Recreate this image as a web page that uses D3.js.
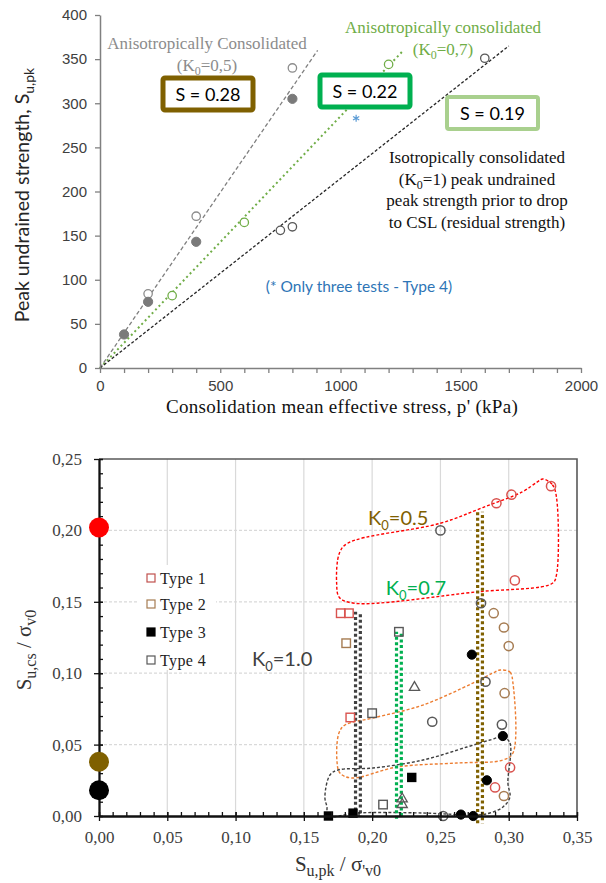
<!DOCTYPE html>
<html>
<head>
<meta charset="utf-8">
<script src="https://cdn.jsdelivr.net/npm/d3@7"></script>
<style>
  body { margin: 0; background: #fff; }
</style>
</head>
<body>
<div id="chart"></div>
<script>
// ---- top panel: peak strength vs consolidation stress ----
var topXTicks = d3.range(0, 2001, 100);
var topYTicks = d3.range(0, 401, 50);
var k05Open = [[200, 84], [400, 172], [800, 340]];
var k05Filled = [[100, 38], [200, 75], [400, 143], [800, 305]];
var k07Open = [[300, 82], [600, 165], [1200, 344]];
var k1Open = [[750, 156], [800, 160], [1600, 351]];
var type4Star = [[1065, 283]];
var trendEndP = [905, 1255, 1700];
var trendEndSu = [360, 358, 365];

// ---- bottom panel: su,cs/sv0 vs su,pk/sv0 ----
var botXMajor = [0, 0.05, 0.10, 0.15, 0.20, 0.25, 0.30, 0.35];
var botYMajor = [0, 0.05, 0.10, 0.15, 0.20, 0.25];
var redCircles = [[0.291, 0.219], [0.302, 0.225], [0.331, 0.231], [0.3045, 0.165], [0.301, 0.034], [0.290, 0.020]];
var redSquares = [[0.177, 0.142], [0.183, 0.142], [0.184, 0.069]];
var brownCircles = [[0.289, 0.142], [0.2965, 0.132], [0.300, 0.119], [0.297, 0.086], [0.2965, 0.014]];
var brownSquares = [[0.181, 0.121]];
var blackCircles = [[0.273, 0.113], [0.2957, 0.056], [0.284, 0.025], [0.265, 0.001], [0.274, 0.0]];
var blackSquares = [[0.229, 0.027], [0.168, 0.0], [0.186, 0.002]];
var grayCircles = [[0.250, 0.200], [0.2797, 0.149], [0.283, 0.094], [0.295, 0.064], [0.244, 0.066], [0.252, 0.0]];
var graySquares = [[0.2196, 0.129], [0.200, 0.072], [0.208, 0.008]];
var grayTriangles = [[0.231, 0.090], [0.222, 0.012], [0.222, 0.008]];
var axisPoints = [[0, 0.202], [0, 0.038], [0, 0.018]];
var k0Values = ["0.5", "0.7", "1.0"];
var k0LineX = [0.279, 0.2196, 0.1896];
var k0LineTop = [0.213, 0.129, 0.143];
var k0LineBottom = [-0.005, -0.002, 0.0];

var redOutline = [[0.325, 0.236], [0.332, 0.232], [0.335, 0.223], [0.335, 0.169], [0.332, 0.163], [0.277, 0.157],
  [0.187, 0.149], [0.176, 0.153], [0.174, 0.163], [0.176, 0.184], [0.182, 0.191], [0.250, 0.205], [0.281, 0.216],
  [0.310, 0.227], [0.321, 0.234]];
var orangeOutline = [[0.2936, 0.1022], [0.3009, 0.1008], [0.3031, 0.0931], [0.3031, 0.0441], [0.2958, 0.0392],
  [0.2621, 0.0371], [0.2182, 0.0343], [0.1852, 0.0266], [0.1764, 0.0301], [0.1742, 0.0392], [0.1757, 0.0581],
  [0.1801, 0.0637], [0.2006, 0.0686], [0.2372, 0.0777], [0.2738, 0.0931], [0.2884, 0.1001]];
var blackOutline = [[0.2958, 0.0553], [0.3009, 0.0511], [0.2994, 0.0231], [0.3009, 0.0133], [0.2958, 0.0063],
  [0.2862, 0.0021], [0.2767, 0.0007], [0.2372, 0.0021], [0.1889, 0.0021], [0.1676, 0.0], [0.1669, 0.0063],
  [0.1654, 0.0133], [0.1691, 0.0287], [0.1750, 0.0322], [0.2006, 0.0336], [0.2372, 0.0392], [0.2694, 0.0483],
  [0.2862, 0.0532]];
var legendTypes = ["Type 1", "Type 2", "Type 3", "Type 4"];

var serif = "'Liberation Serif', 'Times New Roman', serif";
var sans = "Lato, 'Open Sans', sans-serif";
var tahoma = "'Liberation Sans', Arial, sans-serif";

var svg = d3.select("#chart").append("svg")
  .attr("width", 606)
  .attr("height", 883)
  .style("background", "#fff");

// text with subscripts: parts = [[text, isSub], ...]
var rich = function(t, parts, subSize, shift) {
  var prevSub = false;
  parts.forEach(function(p) {
    var ts = t.append("tspan").text(p[0]);
    if (p[1]) {
      ts.style("font-size", subSize + "px");
      if (!prevSub) ts.attr("dy", shift);
    } else if (prevSub) {
      ts.attr("dy", -shift);
    }
    prevSub = p[1];
  });
  return t;
};

// ================= TOP PANEL =================
var xTop = d3.scaleLinear().domain([0, 2000]).range([100, 581]);
var yTop = d3.scaleLinear().domain([0, 400]).range([368, 15]);
var gTop = svg.append("g");

var topLine = d3.line()
  .x(function(d) { return xTop(d[0]); })
  .y(function(d) { return yTop(d[1]); });

var lineStyles = [
  { color: "#7f7f7f", dash: "4,2.5", width: 1.3 },
  { color: "#70ad47", dash: "2,3", width: 2 },
  { color: "#262626", dash: "3,2", width: 1.3 }
];
trendEndP.forEach(function(p, i) {
  gTop.append("path")
    .attr("d", topLine([[0, 0], [p, trendEndSu[i]]]))
    .attr("fill", "none")
    .attr("stroke", lineStyles[i].color)
    .attr("stroke-width", lineStyles[i].width)
    .attr("stroke-dasharray", lineStyles[i].dash);
});

var dots = function(g, data, xs, ys, r, fill, stroke, sw) {
  g.selectAll(null).data(data).enter().append("circle")
    .attr("cx", function(d) { return xs(d[0]); })
    .attr("cy", function(d) { return ys(d[1]); })
    .attr("r", r)
    .attr("fill", fill)
    .attr("stroke", stroke)
    .attr("stroke-width", sw);
};
dots(gTop, k05Open, xTop, yTop, 4.2, "#fff", "#8c8c8c", 1.3);
dots(gTop, k05Filled, xTop, yTop, 4.6, "#7a7a7a", "#7a7a7a", 1);
dots(gTop, k07Open, xTop, yTop, 4.2, "#fff", "#70ad47", 1.3);
dots(gTop, k1Open, xTop, yTop, 4.2, "#fff", "#595959", 1.3);

gTop.selectAll(null).data(type4Star).enter().append("path")
  .attr("transform", function(d) { return "translate(" + xTop(d[0]) + "," + yTop(d[1]) + ")"; })
  .attr("d", d3.symbol().type(d3.symbolAsterisk).size(36))
  .attr("fill", "none")
  .attr("stroke", "#5b9bd5")
  .attr("stroke-width", 1.2);

// axes
var axTopX = gTop.append("g")
  .attr("transform", "translate(0," + yTop(0) + ")")
  .call(d3.axisBottom(xTop).tickValues(topXTicks).tickSize(5).tickSizeOuter(0).tickPadding(7)
    .tickFormat(function(d) { return d % 500 === 0 ? d : ""; }));
var axTopY = gTop.append("g")
  .attr("transform", "translate(" + xTop(0) + ",0)")
  .call(d3.axisLeft(yTop).tickValues(topYTicks).tickSize(5).tickSizeOuter(0).tickPadding(8));
[axTopX, axTopY].forEach(function(a) {
  a.select(".domain").attr("stroke", "#808080").attr("stroke-width", 1.5);
  a.selectAll(".tick line").attr("stroke", "#808080").attr("stroke-width", 1.3);
  a.selectAll(".tick text").attr("fill", "#404040").style("font-family", tahoma).style("font-size", "15px");
});

gTop.append("text")
  .attr("x", 342).attr("y", 413)
  .attr("text-anchor", "middle")
  .style("font-family", serif).style("font-size", "19px").style("letter-spacing", "0.3px").attr("fill", "#111")
  .text("Consolidation mean effective stress, p' (kPa)");

rich(gTop.append("text")
  .attr("transform", "translate(29,195) rotate(-90)")
  .attr("text-anchor", "middle")
  .style("font-family", sans).style("font-size", "19.5px").attr("fill", "#262626"),
  [["Peak undrained strength, S", false], ["u,pk", true]], 14, 5);

// annotations
var note = function(x, y, lines, color, size) {
  lines.forEach(function(l, i) {
    rich(gTop.append("text")
      .attr("x", x).attr("y", y + i * 21.7)
      .attr("text-anchor", "middle")
      .style("font-family", serif).style("font-size", size + "px").attr("fill", color),
      l, 12, 4);
  });
};
note(207, 49, [[["Anisotropically Consolidated", false]], [["(K", false], ["0", true], ["=0,5)", false]]], "#8c8c8c", 17);
note(443, 33, [[["Anisotropically consolidated", false]], [["(K", false], ["0", true], ["=0,7)", false]]], "#70ad47", 17);
note(477, 163, [[["Isotropically consolidated", false]], [["(K", false], ["0", true], ["=1) peak undrained", false]],
  [["peak strength prior to drop", false]], [["to CSL (residual strength)", false]]], "#111", 17);

var sBoxes = [
  { x: 163, y: 78, w: 90, h: 32, color: "#7f6000", sw: 5, label: "S = 0.28" },
  { x: 320, y: 75, w: 90, h: 32, color: "#00b050", sw: 5, label: "S = 0.22" },
  { x: 447, y: 97, w: 91, h: 32, color: "#a9d08e", sw: 4, label: "S = 0.19" }
];
sBoxes.forEach(function(b) {
  gTop.append("rect")
    .attr("x", b.x).attr("y", b.y).attr("width", b.w).attr("height", b.h)
    .attr("rx", 2)
    .attr("fill", "#fff").attr("stroke", b.color).attr("stroke-width", b.sw);
  gTop.append("text")
    .attr("x", b.x + b.w / 2).attr("y", b.y + b.h / 2 + 6.5)
    .attr("text-anchor", "middle")
    .style("font-family", sans).style("font-size", "18px").attr("fill", "#000")
    .text(b.label);
});

gTop.append("text")
  .attr("x", 359).attr("y", 292)
  .attr("text-anchor", "middle")
  .style("font-family", sans).style("font-size", "15.5px").attr("fill", "#2e75b6")
  .text("(* Only three tests - Type 4)");

// ================= BOTTOM PANEL =================
var xBot = d3.scaleLinear().domain([0, 0.35]).range([99, 577]);
var yBot = d3.scaleLinear().domain([0, 0.25]).range([816, 459]);
var gBot = svg.append("g");

// gridlines
gBot.selectAll(null).data(botXMajor.slice(1, -1)).enter().append("line")
  .attr("x1", function(d) { return xBot(d); }).attr("x2", function(d) { return xBot(d); })
  .attr("y1", yBot(0)).attr("y2", yBot(0.25))
  .attr("stroke", "#d9d9d9").attr("stroke-width", 1.2);
gBot.selectAll(null).data(botYMajor.slice(1, -1)).enter().append("line")
  .attr("x1", xBot(0)).attr("x2", xBot(0.35))
  .attr("y1", function(d) { return yBot(d); }).attr("y2", function(d) { return yBot(d); })
  .attr("stroke", "#d9d9d9").attr("stroke-width", 1.2).attr("stroke-dasharray", "3,2");

// frame top/right
gBot.append("path")
  .attr("d", "M" + xBot(0) + "," + yBot(0.25) + "H" + xBot(0.35) + "V" + yBot(0))
  .attr("fill", "none").attr("stroke", "#595959").attr("stroke-width", 1.6);

// legend
var legend = gBot.append("g");
legend.append("rect")
  .attr("x", 138).attr("y", 565).attr("width", 78).attr("height", 105)
  .attr("fill", "#fff");
var legendColors = ["#c0504d", "#a67c52", "#000", "#595959"];
var legendY = [578, 604, 632, 660];
legendTypes.forEach(function(t, i) {
  legend.append("rect")
    .attr("x", 147).attr("y", legendY[i] - 4).attr("width", 8).attr("height", 8)
    .attr("fill", i === 2 ? "#000" : "#fff")
    .attr("stroke", legendColors[i]).attr("stroke-width", 1.2);
  legend.append("text")
    .attr("x", 160).attr("y", legendY[i] + 5.5)
    .style("font-family", serif).style("font-size", "16px").style("letter-spacing", "0.4px").attr("fill", "#222")
    .text(t);
});

// outlines
var outline = d3.line()
  .x(function(d) { return xBot(d[0]); })
  .y(function(d) { return yBot(d[1]); })
  .curve(d3.curveCatmullRomClosed.alpha(0.5));
[[redOutline, "#ff0000"], [orangeOutline, "#ed7d31"], [blackOutline, "#404040"]].forEach(function(o) {
  gBot.append("path")
    .attr("d", outline(o[0]))
    .attr("fill", "none")
    .attr("stroke", o[1]).attr("stroke-width", 1.4).attr("stroke-dasharray", "3,2");
});

// K0 vertical lines (square dotted, two staggered columns)
var k0Colors = ["#7f6000", "#00b050", "#404040"];
k0LineX.forEach(function(x, i) {
  [-2.4, 2.4].forEach(function(off, j) {
    gBot.append("line")
      .attr("x1", xBot(x) + off).attr("x2", xBot(x) + off)
      .attr("y1", yBot(k0LineBottom[i])).attr("y2", yBot(k0LineTop[i]))
      .attr("stroke", k0Colors[i]).attr("stroke-width", 3.2)
      .attr("stroke-dasharray", "3,2.6")
      .attr("stroke-dashoffset", j * 2.8);
  });
});

var k0LabelPos = [[0.197, 0.204], [0.210, 0.155], [0.112, 0.105]];
k0Values.forEach(function(v, i) {
  rich(gBot.append("text")
    .attr("x", xBot(k0LabelPos[i][0])).attr("y", yBot(k0LabelPos[i][1]))
    .style("font-family", sans).style("font-size", "20px").attr("fill", k0Colors[i]),
    [["K", false], ["0", true], ["=" + v, false]], 13, 5);
});

// markers
var sq = function(data, fill, stroke, s) {
  gBot.selectAll(null).data(data).enter().append("rect")
    .attr("x", function(d) { return xBot(d[0]) - s / 2; })
    .attr("y", function(d) { return yBot(d[1]) - s / 2; })
    .attr("width", s).attr("height", s)
    .attr("fill", fill).attr("stroke", stroke).attr("stroke-width", 1.4);
};
dots(gBot, redCircles, xBot, yBot, 4.6, "none", "#d9534f", 1.5);
dots(gBot, brownCircles, xBot, yBot, 4.6, "none", "#a67c52", 1.5);
dots(gBot, grayCircles, xBot, yBot, 4.6, "none", "#595959", 1.5);
dots(gBot, blackCircles, xBot, yBot, 4.6, "#000", "#000", 1);
sq(redSquares, "none", "#d9534f", 8.5);
sq(brownSquares, "none", "#a67c52", 8.5);
sq(graySquares, "none", "#595959", 8.5);
sq(blackSquares, "#000", "#000", 8);
gBot.selectAll(null).data(grayTriangles).enter().append("path")
  .attr("transform", function(d) { return "translate(" + xBot(d[0]) + "," + yBot(d[1]) + ")"; })
  .attr("d", d3.symbol().type(d3.symbolTriangle).size(45))
  .attr("fill", "none").attr("stroke", "#595959").attr("stroke-width", 1.3);

// axes
var fmt = function(d) { return d3.format(".2f")(d).replace(".", ","); };
var axBotX = gBot.append("g")
  .attr("transform", "translate(0," + yBot(0) + ")")
  .call(d3.axisBottom(xBot).tickValues(botXMajor).tickSize(5).tickSizeOuter(0).tickPadding(10).tickFormat(fmt));
var axBotXMinor = gBot.append("g")
  .attr("transform", "translate(0," + yBot(0) + ")")
  .call(d3.axisBottom(xBot).tickValues(d3.range(0, 36).map(function(i) { return i / 100; }))
    .tickSize(-4).tickSizeOuter(0).tickFormat(""));
var axBotY = gBot.append("g")
  .attr("transform", "translate(" + xBot(0) + ",0)")
  .call(d3.axisLeft(yBot).tickValues(botYMajor).tickSize(5).tickSizeOuter(0).tickPadding(12).tickFormat(fmt));
var axBotYMinor = gBot.append("g")
  .attr("transform", "translate(" + xBot(0) + ",0)")
  .call(d3.axisLeft(yBot).tickValues(d3.range(0, 26).map(function(i) { return i / 100; }))
    .tickSize(-4).tickSizeOuter(0).tickFormat(""));
axBotX.selectAll(".tick line").attr("y1", -4);
axBotY.selectAll(".tick line").attr("x1", 4);
[axBotX, axBotXMinor, axBotY, axBotYMinor].forEach(function(a) {
  a.select(".domain").attr("stroke", "#111").attr("stroke-width", 1.8);
  a.selectAll(".tick line").attr("stroke", "#111").attr("stroke-width", 1.3);
  a.selectAll(".tick text").attr("fill", "#404040").style("font-family", serif).style("font-size", "17px");
});

// big reference circles on the y-axis
var axisColors = ["#ff0000", "#7f6000", "#000"];
gBot.selectAll(null).data(axisPoints).enter().append("circle")
  .attr("cx", function(d) { return xBot(d[0]); })
  .attr("cy", function(d) { return yBot(d[1]); })
  .attr("r", 10)
  .attr("fill", function(d, i) { return axisColors[i]; });

rich(gBot.append("text")
  .attr("x", 338).attr("y", 871)
  .attr("text-anchor", "middle")
  .style("font-family", serif).style("font-size", "21px").attr("fill", "#333"),
  [["S", false], ["u,pk", true], [" / σ", false], ["'v0", true]], 16, 5);

rich(gBot.append("text")
  .attr("transform", "translate(31,650) rotate(-90)")
  .attr("text-anchor", "middle")
  .style("font-family", serif).style("font-size", "21px").attr("fill", "#333"),
  [["S", false], ["u,cs", true], [" / σ", false], ["v0", true]], 16, 5);
</script>
</body>
</html>
